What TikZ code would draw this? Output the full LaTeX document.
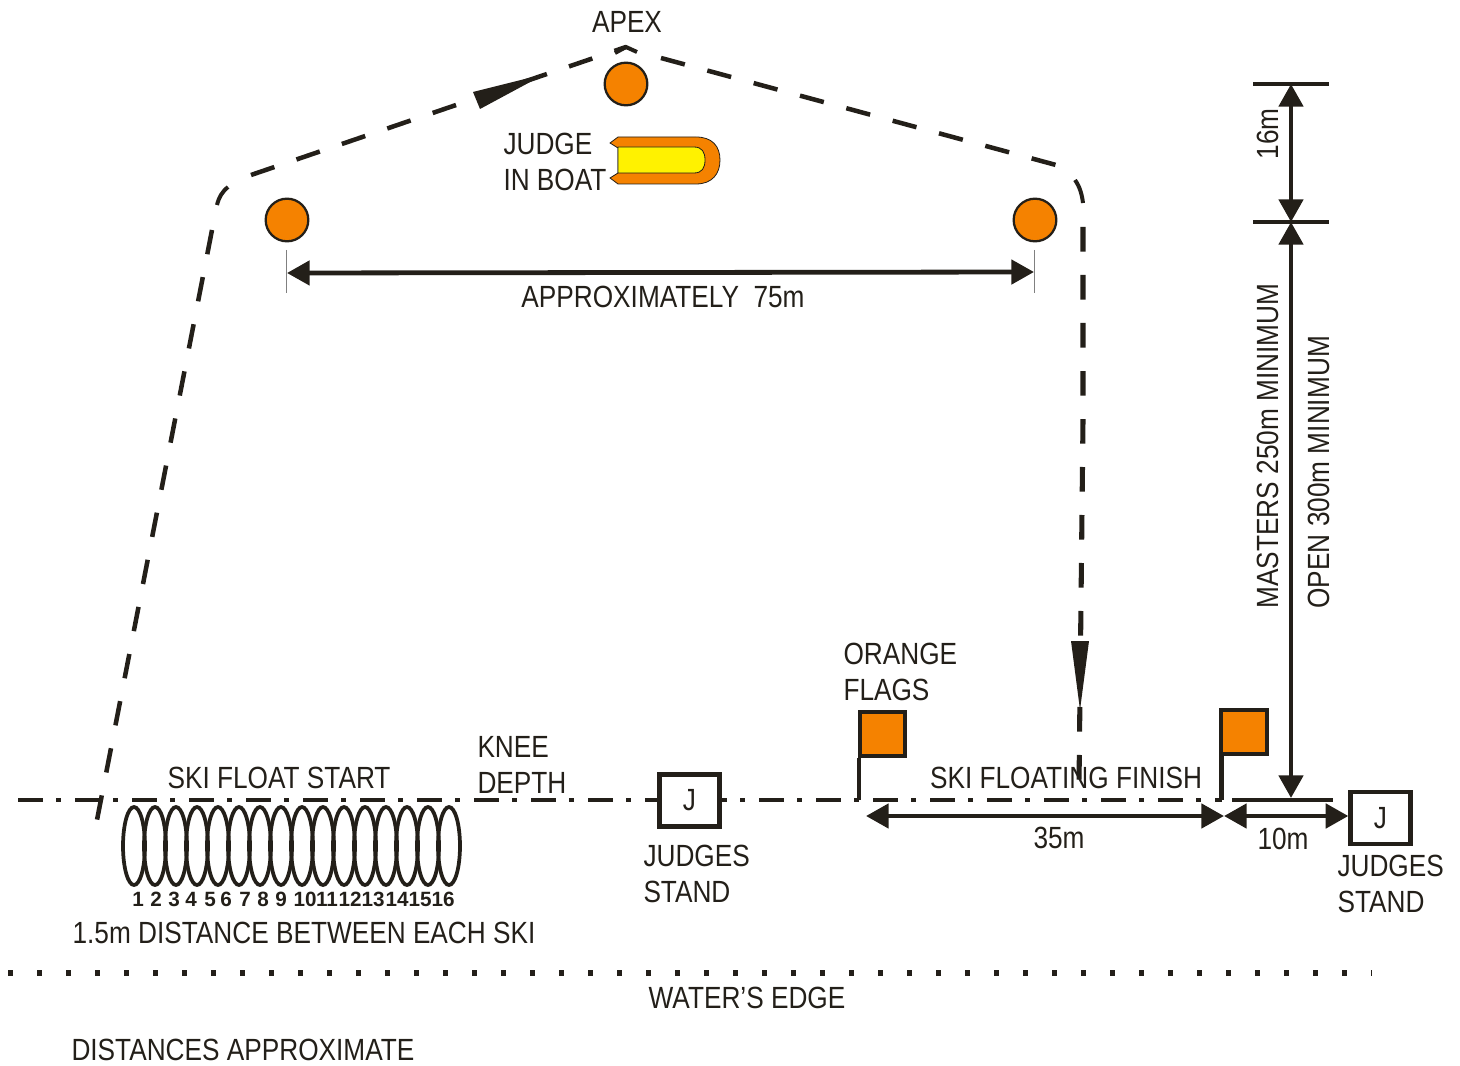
\documentclass[tikz,border=0pt]{standalone}
\usepackage{fontspec}
\setmainfont[FakeStretch=0.855]{Liberation Sans}
\newfontfamily\numfont{Liberation Sans}
\usetikzlibrary{arrows.meta,shapes.geometric}
\definecolor{inkblack}{RGB}{35,31,25}
\definecolor{buoyorange}{RGB}{245,130,0}
\tikzset{every picture/.style={line width=0.75pt}}
\tikzset{
  label/.style={text=inkblack,inner sep=0pt,align=left,font=\fontsize{23}{27}\selectfont},
  skinum/.style={text=inkblack,inner sep=0pt,font=\numfont\fontsize{15.5}{16}\bfseries\selectfont},
  ski/.style={draw=inkblack,line width=2.8pt,ellipse,minimum width=16.5pt,minimum height=58.5pt,inner sep=0pt},
  buoy/.style={draw=inkblack,fill=buoyorange,circle,line width=1.7pt,minimum size=32pt,inner sep=0pt},
  flagbox/.style={draw=inkblack,fill=buoyorange,line width=3pt,minimum width=34pt,minimum height=33pt,inner sep=0pt},
  judgebox/.style={draw=inkblack,fill=white,line width=3.2pt,minimum width=45pt,minimum height=39pt,inner sep=0pt,text=inkblack,font=\fontsize{23}{27}\selectfont},
  dimline/.style={draw=inkblack,line width=3.6pt,{Triangle[length=17pt,width=18pt]}-{Triangle[length=17pt,width=18pt]}},
  course/.style={draw=inkblack,line width=3.4pt,dash pattern=on 18.5pt off 17.5pt},
  coursebend/.style={draw=inkblack,line width=3pt},
  shoreline/.style={draw=inkblack,line width=3.2pt,dash pattern=on 18.75pt off 10pt on 3.75pt off 10.25pt},
  waterline/.style={draw=inkblack,line width=4.6pt,dash pattern=on 4pt off 17.75pt},
  headfill/.style={fill=inkblack,draw=none}
}
\begin{document}
\begin{tikzpicture}[x=0.75pt,y=0.75pt,yscale=-1,xscale=1]
\useasboundingbox (0,0) rectangle (1460,1066);

% course
\coordinate (cstart) at (97,820);
\coordinate (cleft) at (212,230);
\coordinate (ctop) at (251,175);
\coordinate (capex) at (626,47);
\coordinate (cdown) at (661,58);
\coordinate (cshoulder) at (1056,165);
\coordinate (cright) at (1083,227);
\coordinate (cend) at (1079,785);
\draw [course] (cleft) -- (cstart);
\draw [course] (ctop) -- (capex);
\draw [course] (cdown) -- (cshoulder);
\draw [course,line width=3.8pt] (cright) -- (1083,420) -- (cend);
\draw [coursebend] (217,205) .. controls (219,197) and (222,192) .. (228,187);
\draw [coursebend] (615,53) -- (capex) -- (637,52);
\draw [coursebend] (1075,180) .. controls (1080,187) and (1082,195) .. (1083,203);
\fill [headfill] (473,92) -- (545,74) -- (480,109) -- cycle;
\fill [headfill] (1071,641) -- (1089,641) -- (1080,710) -- cycle;

% shore line
\coordinate (sleft) at (18,800);
\coordinate (sright) at (1222,800);
\coordinate (sjudge) at (1232,800);
\coordinate (sjudgeend) at (1333,800);
\draw [shoreline] (sleft) -- (sright);
\draw [draw=inkblack,line width=3.2pt] (sjudge) -- (sjudgeend);

% skis
\foreach \n in {0,...,15}
  \node [ski] (ski\n) at (134+21*\n,846) {};
\foreach \n/\xpos in {1/138,2/156,3/174,4/191,5/210,6/226,7/245,8/263,9/281,10/305,11/327,12/350,13/373,14/397,15/420,16/443}
  \node [skinum] (num\n) at (\xpos,899) {\n};

% buoys
\node [buoy] (buoyapex) at (626,84) {};
\node [buoy] (buoyleft) at (287,220) {};
\node [buoy] (buoyright) at (1035,220) {};

% boat
\draw [draw=inkblack,fill=buoyorange,line width=0.6pt] (618,137) -- (696,137) .. controls (712,137) and (720,146) .. (720,160) .. controls (720,174) and (712,184) .. (696,184) -- (618,184) -- (610,178) -- (618,173) -- (618,148) -- (610,143) -- cycle;
\draw [draw=inkblack,fill=yellow,line width=0.6pt] (618,147) -- (694,147) .. controls (702,147) and (705,152) .. (705,160) .. controls (705,168) and (702,173) .. (694,173) -- (618,173) -- cycle;

% flags and judges
\node [judgebox] (judgeone) at (689.5,800.5) {J};
\node [judgebox] (judgetwo) at (1380.5,818) {J};
\node [flagbox] (flagone) at (882.5,734) {};
\node [flagbox] (flagtwo) at (1244,731.5) {};
\coordinate (poleone) at (859,800);
\coordinate (poletwo) at (1221.5,800);
\draw [draw=inkblack,line width=3.4pt] (poleone |- flagone.south) -- (poleone);
\draw [draw=inkblack,line width=3.4pt] (poletwo |- flagtwo.south) -- (poletwo);

% dimensions
\coordinate (dtop) at (1291,84);
\coordinate (dmid) at (1291,222);
\coordinate (dlow) at (1291,798);
\coordinate (wleft) at (287,273);
\coordinate (wright) at (1034,272);
\coordinate (fleft) at (866,816);
\coordinate (fright) at (1224,816);
\draw [dimline] (dtop) -- (dmid);
\draw [dimline] (dmid) -- (dlow);
\draw [draw=inkblack,line width=3.4pt] (1253,84) -- (1329,84);
\draw [draw=inkblack,line width=3.4pt] (1253,222) -- (1329,222);
\draw [dimline] (wleft) -- (wright);
\draw [draw=gray,line width=0.7pt] (286,250) -- (286,293);
\draw [draw=gray,line width=0.7pt] (1034,250) -- (1034,293);
\draw [dimline] (fleft) -- (fright);
\draw [dimline] (fright) -- (judgetwo.west |- fright);

% water's edge
\coordinate (wedgeleft) at (8,973);
\coordinate (wedgeright) at (1372,973);
\draw [waterline] (wedgeleft) -- (wedgeright);

% labels
\node [label,anchor=base] (apex) at (627,33) {APEX};
\node [label,anchor=base west] (judgeboat) at (503,191) {JUDGE\\IN BOAT};
\node [label,anchor=base] (approx) at (663,307) {APPROXIMATELY\ \ 75m};
\node [label,anchor=base west] (orange) at (843,700) {ORANGE\\FLAGS};
\node [label,anchor=base] (floatstart) at (279,788) {SKI FLOAT START};
\node [label,anchor=base west] (knee) at (477,793) {KNEE\\DEPTH};
\node [label,anchor=base] (floatfinish) at (1066,788) {SKI FLOATING FINISH};
\node [label,anchor=base] (dist) at (304,943) {1.5m DISTANCE BETWEEN EACH SKI};
\node [label,anchor=base west] (standone) at (643,902) {JUDGES\\STAND};
\node [label,anchor=base west] (standtwo) at (1337,912) {JUDGES\\STAND};
\node [label,anchor=base] (thirtyfive) at (1059,848) {35m};
\node [label,anchor=base] (ten) at (1283,849) {10m};
\node [label,anchor=base] (edge) at (747,1008) {WATER'S EDGE};
\node [label,anchor=base west] (approxnote) at (71,1060) {DISTANCES APPROXIMATE};
\node [label,rotate=90,anchor=base] (sixteen) at (1278,134) {16m};
\node [label,rotate=90,anchor=base west] (masters) at (1278,609) {MASTERS 250m MINIMUM};
\node [label,rotate=90,anchor=base west] (open) at (1329,609) {OPEN 300m MINIMUM};
\end{tikzpicture}
\end{document}
